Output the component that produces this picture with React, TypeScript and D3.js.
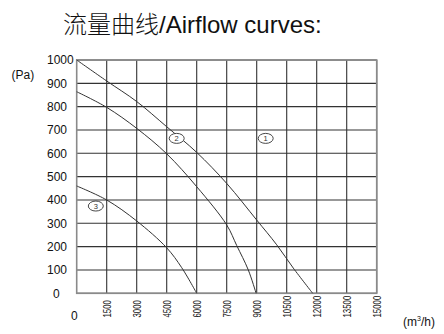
import React from "react";
import * as d3 from "d3";

const title = "流量曲线/Airflow curves:";
const yTicks = [0, 100, 200, 300, 400, 500, 600, 700, 800, 900, 1000];
const xTicks = [1500, 3000, 4500, 6000, 7500, 9000, 10500, 12000, 13500, 15000];

const curve1: [number, number][] = [
  [0, 1000], [1500, 910], [3000, 822], [4500, 714], [6000, 604], [7500, 471],
  [9000, 314], [10000, 208], [10830, 108], [11800, 0],
];
const curve2: [number, number][] = [
  [0, 864], [1500, 797], [3000, 707], [4500, 598], [6000, 457], [7500, 293],
  [8000, 205], [8580, 100], [8970, 0],
];
const curve3: [number, number][] = [
  [0, 460], [1500, 400], [3000, 310], [4500, 195], [5250, 110], [6000, 0],
];
const curves = [curve1, curve2, curve3];
const labelNames = ["1", "2", "3"];
const labelPos: [number, number][] = [[9450, 664], [5000, 664], [955, 374]];

const W = 444;
const H = 334;
const FONT = "'Liberation Sans', Arial, sans-serif";

export default function App() {
  const x = d3.scaleLinear().domain([0, 15000]).range([76.7, 376.7]);
  const y = d3.scaleLinear().domain([0, 1000]).range([293.3, 60]);
  const line = d3
    .line<[number, number]>()
    .x((d) => x(d[0]))
    .y((d) => y(d[1]))
    .curve(d3.curveCatmullRom.alpha(0.5));

  return (
    <svg
      width={W}
      height={H}
      style={{ position: "absolute", left: 0, top: 0, background: "#fff" }}
      fontFamily={FONT}
    >
      <text x={63} y={33} fontSize={24} fill="#111">
        <tspan fontFamily="'Noto Sans CJK SC', sans-serif" fontWeight={300}>流量曲线</tspan>
        <tspan fontFamily={FONT}>{title.slice(4)}</tspan>
      </text>

      {yTicks.map((t) => (
        <line key={"h" + t} x1={x(0)} x2={x(15000)} y1={y(t)} y2={y(t)} stroke="#333" strokeWidth={1.1} />
      ))}
      {xTicks.map((t) => (
        <line key={"v" + t} x1={x(t)} x2={x(t)} y1={y(0)} y2={y(1000)} stroke="#333" strokeWidth={1.1} />
      ))}
      <rect
        x={x(0)}
        y={y(1000)}
        width={x(15000) - x(0)}
        height={y(0) - y(1000)}
        fill="none"
        stroke="#8a8a8a"
        strokeWidth={1.6}
      />

      {curves.map((c, i) => (
        <path key={"c" + i} d={line(c) || ""} fill="none" stroke="#333" strokeWidth={1} />
      ))}

      {labelPos.map((p, i) => (
        <g key={"l" + i}>
          <ellipse cx={x(p[0])} cy={y(p[1])} rx={7.5} ry={5} fill="#fff" stroke="#333" strokeWidth={0.9} />
          <text x={x(p[0])} y={y(p[1]) + 2.6} fontSize={7.5} textAnchor="middle" fill="#333">
            {labelNames[i]}
          </text>
        </g>
      ))}

      {yTicks.map((t) => (
        <text key={"yl" + t} x={t === 0 ? 53 : 47} y={y(t) + 4.3} fontSize={12} fill="#111">
          {t}
        </text>
      ))}
      <text x={11.5} y={79.3} fontSize={12} fill="#111">(Pa)</text>

      <text x={74.3} y={319.5} fontSize={12} textAnchor="middle" fill="#111">0</text>
      {xTicks.map((t) => {
        const s = String(t);
        const cx = x(t) + 4.5;
        const by = 317.5;
        return (
          <text
            key={"xl" + t}
            transform={`translate(${cx},${by}) rotate(-90)`}
            fontSize={10.5}
            fill="#111"
            textLength={s.length * 4.35}
            lengthAdjust="spacingAndGlyphs"
          >
            {s}
          </text>
        );
      })}
      <text x={403} y={325.5} fontSize={12} fill="#111">
        (m<tspan fontSize={7} dy={-5}>3</tspan>
        <tspan dy={5}>/h)</tspan>
      </text>
    </svg>
  );
}
